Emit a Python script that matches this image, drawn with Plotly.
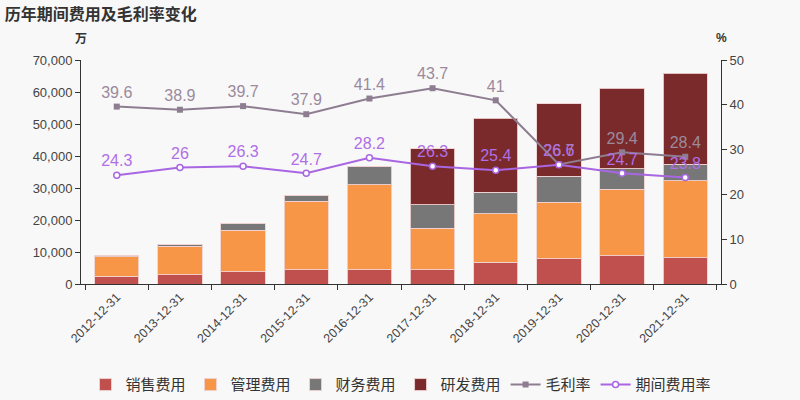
import plotly.graph_objects as go

years = ["2012-12-31", "2013-12-31", "2014-12-31", "2015-12-31", "2016-12-31",
         "2017-12-31", "2018-12-31", "2019-12-31", "2020-12-31", "2021-12-31"]
sales_exp = [2500, 2900, 3850, 4400, 4500, 4500, 6800, 7900, 8900, 8200]
admin_exp = [6000, 8900, 12900, 21500, 26500, 13000, 15100, 17700, 20700, 24100]
fin_exp = [500, 400, 2300, 1800, 5800, 7200, 6700, 8100, 6400, 5200]
rd_exp = [0, 0, 0, 0, 0, 17500, 23200, 22700, 25200, 28300]
gross_margin = [39.6, 38.9, 39.7, 37.9, 41.4, 43.7, 41, 26.7, 29.4, 28.4]
expense_rate = [24.3, 26, 26.3, 24.7, 28.2, 26.3, 25.4, 26.6, 24.7, 23.8]

font = "Liberation Sans, Noto Sans CJK SC, sans-serif"
border = dict(color="rgba(240,210,210,0.9)", width=1)

fig = go.Figure()
for name, vals, col in [("销售费用", sales_exp, "#c0504d"),
                        ("管理费用", admin_exp, "#f79646"),
                        ("财务费用", fin_exp, "#777777"),
                        ("研发费用", rd_exp, "#7b2a2b")]:
    fig.add_trace(go.Bar(x=years, y=vals, name=name, marker=dict(color=col, line=border),
                         width=0.7))

fig.add_trace(go.Scatter(x=years, y=gross_margin, name="毛利率", yaxis="y2",
                         mode="lines+markers+text", text=[str(v) for v in gross_margin],
                         textposition="top center",
                         textfont=dict(color="#9a8a9c", size=16),
                         line=dict(color="#8e7d91", width=2),
                         marker=dict(symbol="square", size=6, color="#8e7d91")))
fig.add_trace(go.Scatter(x=years, y=expense_rate, name="期间费用率", yaxis="y2",
                         mode="lines+markers+text", text=[str(v) for v in expense_rate],
                         textposition="top center",
                         textfont=dict(color="#b06fe6", size=16),
                         line=dict(color="#a966e3", width=2),
                         marker=dict(symbol="circle", size=6, color="white",
                                     line=dict(color="#a966e3", width=1.5))))

axis_common = dict(showgrid=False, zeroline=False, showline=True, linecolor="#333",
                   linewidth=1, ticks="outside", ticklen=5, tickcolor="#333",
                   tickfont=dict(size=13, color="#444"), automargin=False)

fig.update_layout(
    barmode="stack",
    width=800, height=400,
    paper_bgcolor="#f8f8f8", plot_bgcolor="#f8f8f8",
    font=dict(family=font, color="#333"),
    margin=dict(l=81, r=79, t=60, b=116, autoexpand=False),
    title=dict(text="<b>历年期间费用及毛利率变化</b>", x=0.006, xanchor="left",
               y=0.965, yanchor="middle",
               font=dict(size=16, color="#333", family="Noto Sans CJK SC")),
    xaxis=dict(type="category", showgrid=False, showline=True, linecolor="#333",
               ticks="outside", ticklen=5, tickcolor="#333", tickangle=-45,
               tickson="boundaries",
               tickfont=dict(size=12.5, color="#444"), automargin=False),
    yaxis=dict(range=[0, 70000], dtick=10000, tickformat=",", **axis_common),
    yaxis2=dict(range=[0, 50], dtick=10, overlaying="y", side="right", **axis_common),
    legend=dict(orientation="h", x=0.5, xanchor="center", y=-0.45, yanchor="middle",
                font=dict(size=15, color="#333"), traceorder="normal",
                itemwidth=30, bgcolor="rgba(0,0,0,0)"),
    showlegend=True,
    annotations=[
        dict(text="<b>万</b>", x=0, y=1.1, xref="paper", yref="paper", showarrow=False,
             xanchor="center", yanchor="middle",
             font=dict(size=12, color="#333", family="Noto Sans CJK SC")),
        dict(text="<b>%</b>", x=1, y=1.1, xref="paper", yref="paper", showarrow=False,
             xanchor="center", yanchor="middle", font=dict(size=12, color="#333")),
    ],
)

fig.write_html("out.html", config={"displayModeBar": False},
               post_script="document.body.style.margin='0';"
                           "document.body.style.background='#f8f8f8';")
